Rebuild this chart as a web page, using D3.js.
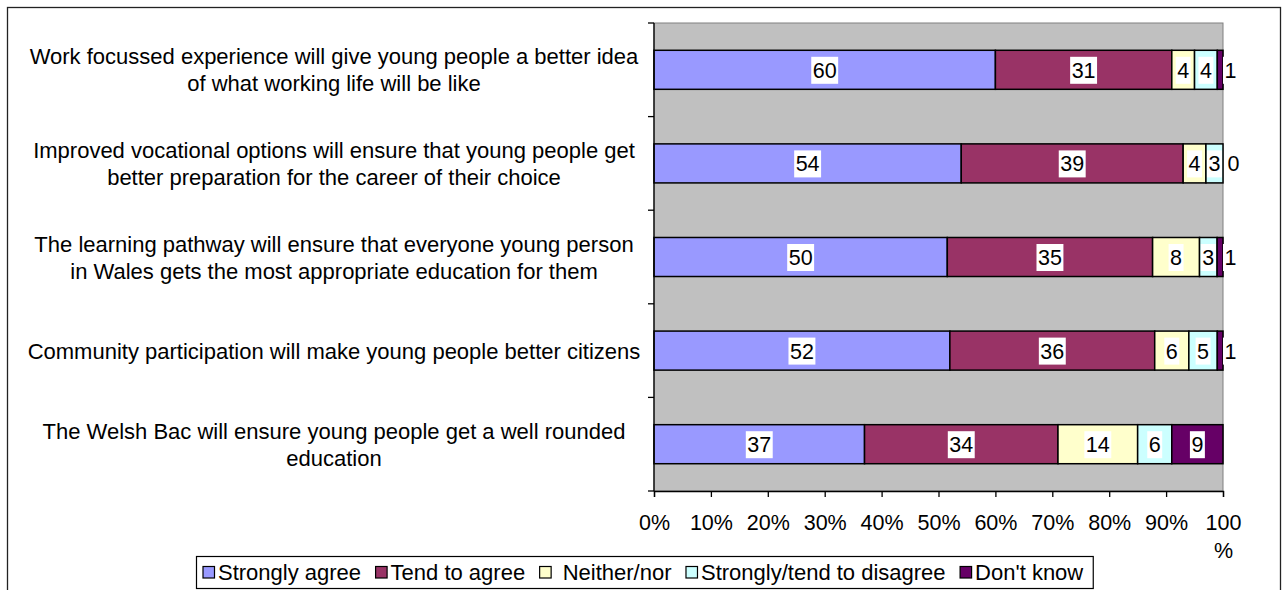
<!DOCTYPE html>
<html>
<head>
<meta charset="utf-8">
<script src="https://cdn.jsdelivr.net/npm/d3@7"></script>
<style>
  html, body { margin: 0; padding: 0; background: #fff; }
  svg { display: block; font-family: "Liberation Sans", Arial, sans-serif; }
</style>
</head>
<body>
<svg id="chart" width="1284" height="590"></svg>
<script>
// Survey statements (each entry is one wrapped label, line by line)
const categories = [
  ["Work focussed experience will give young people a better idea", "of what working life will be like"],
  ["Improved vocational options will ensure that young people get", "better preparation for the career of their choice"],
  ["The learning pathway will ensure that everyone young person", "in Wales gets the most appropriate education for them"],
  ["Community participation will make young people better citizens"],
  ["The Welsh Bac will ensure young people get a well rounded", "education"]
];

// Response shares (%) per statement
const stronglyAgree = [60, 54, 50, 52, 37];
const tendToAgree   = [31, 39, 35, 36, 34];
const neitherNor    = [4, 4, 8, 6, 14];
const disagree      = [4, 3, 3, 5, 6];
const dontKnow      = [1, 0, 1, 1, 9];

const seriesNames  = ["Strongly agree", "Tend to agree", "Neither/nor", "Strongly/tend to disagree", "Don't know"];
const seriesColors = ["#9999FF", "#993366", "#FFFFCC", "#CCFFFF", "#660066"];
const tickValues   = [0, 0.1, 0.2, 0.3, 0.4, 0.5, 0.6, 0.7, 0.8, 0.9, 1.0];
const tickLabels   = ["0%", "10%", "20%", "30%", "40%", "50%", "60%", "70%", "80%", "90%", "100%"];

const seriesValues = [stronglyAgree, tendToAgree, neitherNor, disagree, dontKnow];
const keys = seriesNames.map((_, i) => "s" + i);
const rows = categories.map((c, r) => {
  const o = { idx: r };
  keys.forEach((k, i) => { o[k] = seriesValues[i][r]; });
  return o;
});

const svg = d3.select("#chart");
const FONT = 21.5;

// Outer chart frame
svg.append("rect")
  .attr("x", 7.5).attr("y", 7.5)
  .attr("width", 1273).attr("height", 600)
  .attr("fill", "#fff").attr("stroke", "#222").attr("stroke-width", 1.3);

const plot = { left: 654, right: 1223, top: 23, bottom: 491 };

const x = d3.scaleLinear().domain([0, 1]).range([plot.left, plot.right]);
const y = d3.scaleBand()
  .domain(rows.map(d => d.idx))
  .range([plot.top, plot.bottom])
  .paddingInner(0.583)
  .paddingOuter(0.2915);

// Plot area
svg.append("rect")
  .attr("x", plot.left).attr("y", plot.top)
  .attr("width", plot.right - plot.left).attr("height", plot.bottom - plot.top)
  .attr("fill", "#C0C0C0").attr("stroke", "#808080").attr("stroke-width", 1);

// Stacked (100%) bars
const stacked = d3.stack().keys(keys).offset(d3.stackOffsetExpand)(rows);

const layers = svg.append("g").selectAll("g")
  .data(stacked).join("g")
  .attr("fill", (d, i) => seriesColors[i]);

layers.selectAll("rect")
  .data(d => d)
  .join("rect")
  .attr("x", d => x(d[0]))
  .attr("y", d => y(d.data.idx))
  .attr("width", d => x(d[1]) - x(d[0]))
  .attr("height", y.bandwidth())
  .attr("stroke", "#000")
  .attr("stroke-width", 1.5);

// Category axis with ticks at band boundaries
const yAxisG = svg.append("g").attr("transform", `translate(${plot.left},0)`);
const yStep = (plot.bottom - plot.top) / rows.length;
yAxisG.append("line")
  .attr("x1", 0).attr("x2", 0).attr("y1", plot.top).attr("y2", plot.bottom)
  .attr("stroke", "#000").attr("stroke-width", 1.3);
yAxisG.selectAll("line.tick")
  .data(d3.range(rows.length + 1))
  .join("line").attr("class", "tick")
  .attr("x1", -6).attr("x2", 0)
  .attr("y1", i => plot.top + i * yStep).attr("y2", i => plot.top + i * yStep)
  .attr("stroke", "#000").attr("stroke-width", 1.3);

const xAxis = d3.axisBottom(x).tickValues(tickValues).tickSize(6).tickFormat(() => "");
const xAxisG = svg.append("g")
  .attr("transform", `translate(0,${plot.bottom})`)
  .call(xAxis);
xAxisG.select(".domain").attr("stroke", "#000").attr("stroke-width", 1.3);
xAxisG.selectAll(".tick line").attr("stroke", "#000").attr("stroke-width", 1.3);

// Tick labels (the last one wraps onto two lines)
xAxisG.selectAll(".tick").each(function(v, i) {
  const label = tickLabels[i];
  const t = d3.select(this).append("text")
    .attr("fill", "#000")
    .attr("font-size", FONT)
    .attr("text-anchor", "middle")
    .attr("dominant-baseline", "central")
    .attr("y", 32);
  if (label === "100%") {
    t.append("tspan").attr("x", 0).text("100");
    t.append("tspan").attr("x", 0).attr("dy", 28).text("%");
  } else {
    t.text(label);
  }
});

// Category labels
const catG = svg.append("g");
rows.forEach((d, r) => {
  const lines = categories[r];
  const cy = y(d.idx) + y.bandwidth() / 2;
  const lh = 27;
  const t = catG.append("text")
    .attr("font-size", FONT + 0.5)
    .attr("text-anchor", "middle")
    .attr("dominant-baseline", "central")
    .attr("fill", "#000");
  lines.forEach((line, j) => {
    t.append("tspan")
      .attr("x", 334)
      .attr("y", cy + (j - (lines.length - 1) / 2) * lh)
      .text(line);
  });
});

// Data labels with white boxes; narrow segments get their label just past the segment
const labelG = svg.append("g");
rows.forEach((d, r) => {
  let prevRight = -Infinity;
  stacked.forEach((layer, s) => {
    const seg = layer[r];
    const x0 = x(seg[0]), x1 = x(seg[1]);
    const value = seriesValues[s][r];
    const cy = y(d.idx) + y.bandwidth() / 2;
    const g = labelG.append("g");
    const bg = g.append("rect").attr("fill", "#fff");
    const txt = g.append("text")
      .attr("font-size", FONT)
      .attr("text-anchor", "middle")
      .attr("dominant-baseline", "central")
      .attr("fill", "#000")
      .text(value);
    const tw = txt.node().getComputedTextLength();
    const bw = tw + 3;
    let cx;
    if (x1 - x0 < bw) {
      cx = x1 + bw / 2;
    } else {
      cx = (x0 + x1) / 2;
    }
    if (cx - bw / 2 < prevRight + 4) cx = prevRight + 4 + bw / 2;
    prevRight = cx + bw / 2;
    txt.attr("x", cx).attr("y", cy + 1);
    bg.attr("x", cx - bw / 2).attr("y", cy - 13).attr("width", bw).attr("height", 27);
  });
});

// Legend
const legend = svg.append("g");
const legTop = 556, legBottom = 588;
const legendItems = legend.selectAll("g.item")
  .data(seriesNames).join("g").attr("class", "item");
legendItems.append("rect")
  .attr("width", 11.5).attr("height", 11.5)
  .attr("fill", (d, i) => seriesColors[i])
  .attr("stroke", "#000").attr("stroke-width", 1.2);
legendItems.append("text")
  .attr("font-size", FONT + 0.5)
  .attr("dominant-baseline", "central")
  .attr("fill", "#000")
  .text(d => d);
const widths = [];
legendItems.select("text").each(function() { widths.push(this.getComputedTextLength()); });
const markerW = 12, markerGap = 3, itemGap = 14.5;
const extraLead = [0, 0, 8, 0, 0];
let cursor = 203;
legendItems.each(function(d, i) {
  const g = d3.select(this);
  const mx = cursor;
  g.select("rect").attr("x", mx).attr("y", (legTop + legBottom) / 2 - 5.5);
  g.select("text").attr("x", mx + markerW + markerGap + extraLead[i]).attr("y", (legTop + legBottom) / 2 + 0.5);
  cursor = mx + markerW + markerGap + extraLead[i] + widths[i] + itemGap;
});
const legRight = cursor - itemGap + 10;
legend.insert("rect", ":first-child")
  .attr("x", 196.5).attr("y", legTop + 0.5)
  .attr("width", legRight - 196.5).attr("height", legBottom - legTop)
  .attr("fill", "#fff").attr("stroke", "#000").attr("stroke-width", 1.2);
</script>
</body>
</html>
